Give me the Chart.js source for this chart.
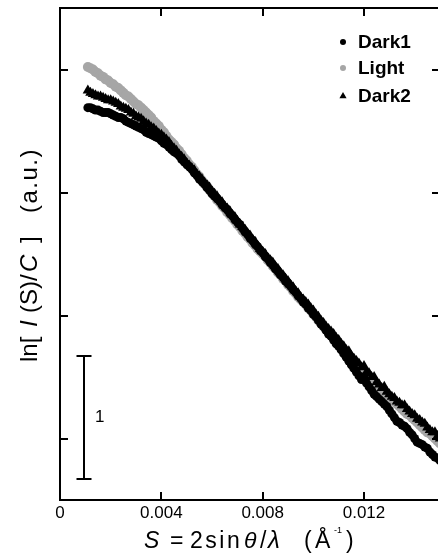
<!DOCTYPE html>
<html>
<head>
<meta charset="utf-8">
<script src="https://cdn.jsdelivr.net/npm/chart.js@4.4.0/dist/chart.umd.min.js"></script>
<style>
    html, body { margin: 0; padding: 0; background: #fff; overflow: hidden; }
    #wrap { width: 446px; height: 553px; }
</style>
</head>
<body>
<div id="wrap"><canvas id="myChart" width="446" height="553"></canvas></div>
<script>
// scattering vector S (1/Å) shared by all three runs
const sValues = [
    0.0011, 0.0012, 0.0013, 0.0014, 0.0015, 0.0016, 0.0017, 0.0018, 0.0019, 0.0020,
    0.0021, 0.0022, 0.0023, 0.0024, 0.0025, 0.0026, 0.0027, 0.0028, 0.0029, 0.0030,
    0.0031, 0.0032, 0.0033, 0.0034, 0.0035, 0.0036, 0.0037, 0.0038, 0.0039, 0.0040,
    0.0041, 0.0042, 0.0043, 0.0044, 0.0045, 0.0046, 0.0047, 0.0048, 0.0049, 0.0050,
    0.0051, 0.0052, 0.0053, 0.0054, 0.0055, 0.0056, 0.0057, 0.0058, 0.0059, 0.0060,
    0.0061, 0.0062, 0.0063, 0.0064, 0.0065, 0.0066, 0.0067, 0.0068, 0.0069, 0.0070,
    0.0071, 0.0072, 0.0073, 0.0074, 0.0075, 0.0076, 0.0077, 0.0078, 0.0079, 0.0080,
    0.0081, 0.0082, 0.0083, 0.0084, 0.0085, 0.0086, 0.0087, 0.0088, 0.0089, 0.0090,
    0.0091, 0.0092, 0.0093, 0.0094, 0.0095, 0.0096, 0.0097, 0.0098, 0.0099, 0.0100,
    0.0101, 0.0102, 0.0103, 0.0104, 0.0105, 0.0106, 0.0107, 0.0108, 0.0109, 0.0110,
    0.0111, 0.0112, 0.0113, 0.0114, 0.0115, 0.0116, 0.0117, 0.0118, 0.0119, 0.0120,
    0.0121, 0.0122, 0.0123, 0.0124, 0.0125, 0.0126, 0.0127, 0.0128, 0.0129, 0.0130,
    0.0131, 0.0132, 0.0133, 0.0134, 0.0135, 0.0136, 0.0137, 0.0138, 0.0139, 0.0140,
    0.0141, 0.0142, 0.0143, 0.0144, 0.0145, 0.0146, 0.0147, 0.0148, 0.0149, 0.0150,
    0.0151
];

// ln[I(S)/C], arbitrary offset
const dark1 = [
    2.69, 2.69, 2.68, 2.67, 2.67, 2.66, 2.65, 2.65, 2.65, 2.64,
    2.63, 2.62, 2.61, 2.61, 2.60, 2.58, 2.57, 2.56, 2.55, 2.54,
    2.53, 2.52, 2.51, 2.49, 2.48, 2.47, 2.46, 2.45, 2.44, 2.42,
    2.40, 2.39, 2.37, 2.35, 2.33, 2.32, 2.30, 2.27, 2.25, 2.23,
    2.21, 2.19, 2.16, 2.14, 2.11, 2.09, 2.07, 2.04, 2.02, 1.99,
    1.97, 1.95, 1.93, 1.90, 1.88, 1.86, 1.83, 1.81, 1.78, 1.76,
    1.74, 1.71, 1.68, 1.66, 1.63, 1.61, 1.58, 1.56, 1.53, 1.51,
    1.48, 1.46, 1.43, 1.41, 1.38, 1.36, 1.33, 1.31, 1.28, 1.26,
    1.24, 1.21, 1.19, 1.16, 1.14, 1.11, 1.09, 1.06, 1.04, 1.01,
    0.99, 0.96, 0.93, 0.91, 0.88, 0.85, 0.83, 0.80, 0.77, 0.75,
    0.72, 0.69, 0.66, 0.63, 0.60, 0.57, 0.54, 0.51, 0.48, 0.50,
    0.45, 0.42, 0.39, 0.36, 0.34, 0.32, 0.30, 0.28, 0.26, 0.23,
    0.20, 0.17, 0.14, 0.13, 0.11, 0.10, 0.08, 0.05, 0.03, 0.00,
    -0.03, -0.04, -0.05, -0.07, -0.08, -0.11, -0.13, -0.15, -0.16, -0.18,
    -0.20
];
const light = [
    3.02, 3.01, 3.00, 2.98, 2.97, 2.95, 2.94, 2.92, 2.91, 2.89,
    2.88, 2.86, 2.85, 2.83, 2.81, 2.79, 2.78, 2.76, 2.74, 2.72,
    2.71, 2.69, 2.67, 2.65, 2.63, 2.61, 2.58, 2.56, 2.54, 2.51,
    2.49, 2.46, 2.43, 2.41, 2.39, 2.36, 2.34, 2.31, 2.28, 2.26,
    2.23, 2.21, 2.18, 2.15, 2.13, 2.10, 2.07, 2.05, 2.02, 2.00,
    1.97, 1.94, 1.92, 1.89, 1.87, 1.84, 1.82, 1.79, 1.77, 1.74,
    1.72, 1.69, 1.67, 1.64, 1.62, 1.59, 1.57, 1.54, 1.52, 1.50,
    1.48, 1.45, 1.43, 1.40, 1.38, 1.35, 1.33, 1.30, 1.28, 1.25,
    1.23, 1.20, 1.18, 1.15, 1.13, 1.11, 1.09, 1.06, 1.04, 1.01,
    0.99, 0.96, 0.94, 0.91, 0.89, 0.87, 0.85, 0.82, 0.80, 0.77,
    0.75, 0.72, 0.70, 0.67, 0.65, 0.63, 0.61, 0.58, 0.56, 0.54,
    0.52, 0.49, 0.47, 0.45, 0.43, 0.41, 0.39, 0.37, 0.35, 0.33,
    0.31, 0.30, 0.28, 0.26, 0.24, 0.22, 0.20, 0.19, 0.17, 0.15,
    0.13, 0.11, 0.09, 0.07, 0.05, 0.04, 0.02, 0.00, -0.02, -0.04,
    -0.06
];
const dark2 = [
    2.83, 2.81, 2.80, 2.79, 2.78, 2.78, 2.77, 2.76, 2.75, 2.75,
    2.74, 2.73, 2.72, 2.70, 2.69, 2.68, 2.67, 2.65, 2.64, 2.62,
    2.61, 2.60, 2.58, 2.56, 2.55, 2.53, 2.52, 2.50, 2.48, 2.47,
    2.45, 2.43, 2.41, 2.38, 2.36, 2.34, 2.31, 2.29, 2.27, 2.24,
    2.22, 2.20, 2.18, 2.15, 2.13, 2.11, 2.08, 2.06, 2.04, 2.01,
    1.99, 1.97, 1.94, 1.92, 1.89, 1.87, 1.85, 1.82, 1.80, 1.77,
    1.74, 1.72, 1.70, 1.67, 1.65, 1.62, 1.60, 1.57, 1.54, 1.52,
    1.50, 1.47, 1.45, 1.43, 1.40, 1.38, 1.35, 1.33, 1.30, 1.28,
    1.25, 1.23, 1.20, 1.18, 1.15, 1.13, 1.11, 1.09, 1.06, 1.04,
    1.01, 0.99, 0.96, 0.94, 0.91, 0.89, 0.87, 0.85, 0.82, 0.80,
    0.77, 0.75, 0.72, 0.71, 0.67, 0.65, 0.63, 0.61, 0.58, 0.59,
    0.54, 0.53, 0.50, 0.50, 0.46, 0.44, 0.41, 0.42, 0.38, 0.36,
    0.34, 0.33, 0.30, 0.29, 0.27, 0.27, 0.24, 0.22, 0.20, 0.19,
    0.16, 0.15, 0.13, 0.12, 0.09, 0.07, 0.05, 0.05, 0.02, 0.00,
    -0.02
];

const seriesNames = ['Dark1', 'Light', 'Dark2'];
const xTickValues = [0, 0.004, 0.008, 0.012];
const xTickLabels = ['0', '0.004', '0.008', '0.012'];
const yTickValues = [0, 1, 2, 3];

const FONT = "'Liberation Sans', Arial, sans-serif";
const GRAY = '#a6a6a6';

function toPoints(ys) {
    return sValues.map((s, i) => ({ x: s, y: ys[i] }));
}

// draws a run of text pieces, each at its own offset along the baseline
function drawPieces(ctx, pieces) {
    pieces.forEach(p => {
        ctx.font = p.font;
        ctx.letterSpacing = p.spacing || '0px';
        ctx.fillText(p.text, p.at, p.dy || 0);
    });
    ctx.letterSpacing = '0px';
}

const framePlugin = {
    id: 'frame',
    afterDatasetsDraw(chart) {
        const { ctx, chartArea: a, scales } = chart;
        const xs = scales.x, ys = scales.y;
        ctx.save();
        ctx.strokeStyle = '#000';
        ctx.lineWidth = 2;

        // box
        ctx.beginPath();
        ctx.moveTo(a.left, a.top);
        ctx.lineTo(a.right, a.top);
        ctx.lineTo(a.right, a.bottom);
        ctx.lineTo(a.left, a.bottom);
        ctx.closePath();
        ctx.stroke();

        // tick marks point into the box
        ctx.beginPath();
        xTickValues.slice(1).forEach(v => {
            const px = Math.round(xs.getPixelForValue(v));
            ctx.moveTo(px, a.bottom); ctx.lineTo(px, a.bottom - 8);
            ctx.moveTo(px, a.top); ctx.lineTo(px, a.top + 8);
        });
        yTickValues.forEach(v => {
            const py = Math.round(ys.getPixelForValue(v));
            ctx.moveTo(a.left, py); ctx.lineTo(a.left + 8, py);
            ctx.moveTo(a.right, py); ctx.lineTo(a.right - 8, py);
        });
        ctx.stroke();

        // scale bar of one ln unit
        const bx = Math.round(xs.getPixelForValue(0.00094));
        const bTop = ys.getPixelForValue(0.67);
        const bBot = ys.getPixelForValue(-0.33);
        ctx.beginPath();
        ctx.moveTo(bx, bTop); ctx.lineTo(bx, bBot);
        ctx.moveTo(bx - 7.5, bTop); ctx.lineTo(bx + 7.5, bTop);
        ctx.moveTo(bx - 7.5, bBot); ctx.lineTo(bx + 7.5, bBot);
        ctx.stroke();
        ctx.fillStyle = '#000';
        ctx.font = '17px ' + FONT;
        ctx.textAlign = 'left';
        ctx.textBaseline = 'middle';
        ctx.fillText('1', bx + 11, (bTop + bBot) / 2);

        // legend
        const rows = [42, 68, 96];
        chart.data.datasets.forEach((ds, i) => {
            const mx = 343, my = rows[i];
            ctx.fillStyle = ds.backgroundColor;
            ctx.beginPath();
            if (ds.pointStyle === 'triangle') {
                ctx.moveTo(mx, my - 4);
                ctx.lineTo(mx + 3.6, my + 2.2);
                ctx.lineTo(mx - 3.6, my + 2.2);
                ctx.closePath();
            } else {
                ctx.arc(mx, my, 3, 0, Math.PI * 2);
            }
            ctx.fill();
            ctx.fillStyle = '#000';
            ctx.font = 'bold 19px ' + FONT;
            ctx.textBaseline = 'middle';
            ctx.fillText(ds.label, 358, my + 1);
        });

        // x axis title
        ctx.textBaseline = 'alphabetic';
        ctx.save();
        ctx.translate(0, 548);
        drawPieces(ctx, [
            { text: 'S', at: 144, font: 'italic 23px ' + FONT },
            { text: '=', at: 170, font: '23px ' + FONT },
            { text: '2sin', at: 190, font: '23px ' + FONT, spacing: '2.5px' },
            { text: 'θ', at: 244, font: 'italic 23px ' + FONT },
            { text: '/', at: 260, font: '23px ' + FONT },
            { text: 'λ', at: 268, font: 'italic 24px ' + FONT },
            { text: '(', at: 304, font: '23px ' + FONT },
            { text: 'Å', at: 315, font: '23px ' + FONT },
            { text: '-1', at: 334, dy: -15, font: '9px ' + FONT },
            { text: ')', at: 346, font: '23px ' + FONT }
        ]);
        ctx.restore();

        // y axis title, reading upwards
        ctx.save();
        ctx.translate(37, 362);
        ctx.rotate(-Math.PI / 2);
        drawPieces(ctx, [
            { text: 'ln[', at: 0, font: '24px ' + FONT },
            { text: 'I', at: 35, font: 'italic 24px ' + FONT },
            { text: '(S)/', at: 49, font: '24px ' + FONT },
            { text: 'C', at: 90, font: 'italic 24px ' + FONT },
            { text: ']', at: 119, font: '24px ' + FONT },
            { text: '(a.u.)', at: 149, font: '24px ' + FONT, spacing: '1.5px' }
        ]);
        ctx.restore();

        ctx.restore();
    }
};

const ctx = document.getElementById('myChart');

new Chart(ctx, {
    type: 'scatter',
    data: {
        datasets: [
            {
                label: seriesNames[0],
                data: toPoints(dark1),
                pointStyle: 'circle',
                pointRadius: 4.5,
                backgroundColor: '#000',
                borderColor: '#000',
                borderWidth: 0,
                order: 1
            },
            {
                label: seriesNames[1],
                data: toPoints(light),
                pointStyle: 'circle',
                pointRadius: 5,
                backgroundColor: GRAY,
                borderColor: GRAY,
                borderWidth: 0,
                order: 2
            },
            {
                label: seriesNames[2],
                data: toPoints(dark2),
                pointStyle: 'triangle',
                pointRadius: 6,
                backgroundColor: '#000',
                borderColor: '#000',
                borderWidth: 0,
                order: 0
            }
        ]
    },
    options: {
        responsive: false,
        animation: false,
        events: [],
        layout: { padding: { top: 8, right: 5, left: 0, bottom: 0 } },
        plugins: {
            legend: { display: false },
            tooltip: { enabled: false }
        },
        scales: {
            x: {
                type: 'linear',
                min: 0,
                max: 0.015,
                afterBuildTicks: s => { s.ticks = xTickValues.map(v => ({ value: v })); },
                afterFit: s => { s.height = 53; },
                ticks: {
                    callback: (v, i) => xTickLabels[i],
                    font: { family: FONT, size: 17 },
                    color: '#000',
                    padding: 3,
                    maxRotation: 0,
                    autoSkip: false
                },
                grid: { display: false, drawTicks: false },
                border: { display: false }
            },
            y: {
                type: 'linear',
                min: -0.5,
                max: 3.5,
                afterBuildTicks: s => { s.ticks = yTickValues.map(v => ({ value: v })); },
                afterFit: s => { s.width = 60; },
                ticks: { display: false },
                grid: { display: false, drawTicks: false },
                border: { display: false }
            }
        }
    },
    plugins: [framePlugin]
});
</script>
</body>
</html>
